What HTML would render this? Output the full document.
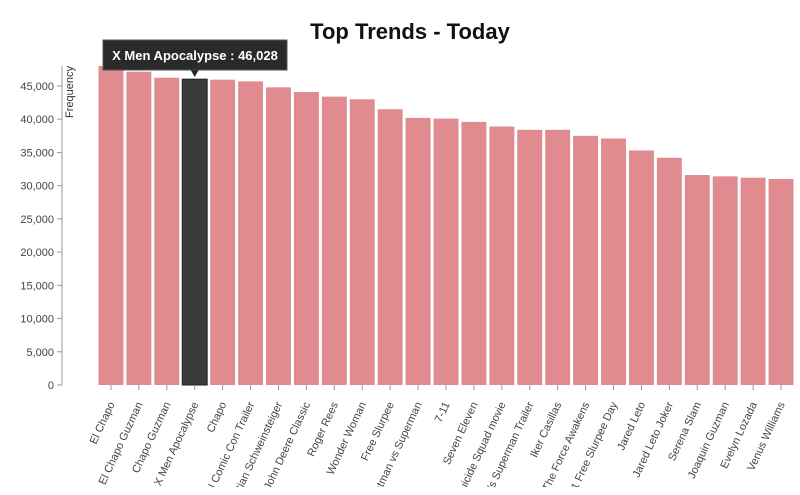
<!DOCTYPE html>
<html><head><meta charset="utf-8"><style>
html,body{margin:0;padding:0;background:#fff;width:800px;height:495px;overflow:hidden}
svg{display:block;font-family:"Liberation Sans",sans-serif;overflow:hidden}
</style></head><body>
<svg id="chart" width="800" height="495">
<defs><clipPath id="clip"><rect x="0" y="0" width="800" height="487"/></clipPath></defs>
<text x="410" y="39" text-anchor="middle" font-size="22" font-weight="bold" fill="#111">Top Trends - Today</text>
<g id="yaxis"></g>
<text transform="translate(73,66) rotate(-90)" text-anchor="end" font-size="11" fill="#333">Frequency</text>
<g id="bars"></g>
<g id="xaxis" clip-path="url(#clip)"></g>
<g id="tooltip"></g>
</svg>
<script>
const categories=["El Chapo","El Chapo Guzman","Chapo Guzman","X Men Apocalypse","Chapo","Deadpool Comic Con Trailer","Bastian Schweinsteiger","John Deere Classic","Roger Rees","Wonder Woman","Free Slurpee","Batman vs Superman","7-11","Seven Eleven","Suicide Squad movie","Batman Vs Superman Trailer","Iker Casillas","Star Wars The Force Awakens","7/11 Free Slurpee Day","Jared Leto","Jared Leto Joker","Serena Slam","Joaquin Guzman","Evelyn Lozada","Venus Williams"];
const values=[48000,47150,46250,46028,45950,45700,44800,44100,43400,43000,41500,40200,40100,39600,38900,38400,38400,37500,37100,35300,34200,31600,31400,31200,31000];
const yTicks=[0,5000,10000,15000,20000,25000,30000,35000,40000,45000];
const highlighted=3;
const NS="http://www.w3.org/2000/svg";
const x0=97,x1=795,yBase=385,pxPer=299/45000;
const step=(x1-x0)/categories.length;
const xs=i=>x0+i*step;
const ys=v=>yBase-v*pxPer;
function mk(tag,attrs,parent){const e=document.createElementNS(NS,tag);for(const k in attrs)e.setAttribute(k,attrs[k]);parent.appendChild(e);return e;}
const ya=document.getElementById('yaxis');
const yMax=Math.max(...values);
let l=mk('line',{x1:62,x2:62,y1:ys(yMax),y2:yBase,stroke:'#999'},ya);


yTicks.forEach(t=>{
 const y=ys(t);
 let tk=mk('line',{x1:57,x2:62,y1:y,y2:y,stroke:'#999'},ya);
 
 
 let tx=mk('text',{x:54,y:y+4,'text-anchor':'end','font-size':11,fill:'#444'},ya);
 tx.textContent=t.toLocaleString('en-US');
 
 
});
const bars=document.getElementById('bars'),xa=document.getElementById('xaxis');
categories.forEach((c,i)=>{
 const bx=xs(i)+1.5,bw=step-3,v=values[i];
 const hi=i===highlighted;
 let r=mk('rect',{x:bx,y:ys(v),width:bw,height:yBase-ys(v),fill:hi?'#3b3b3b':'#e08b8f',stroke:hi?'#222':'none','stroke-width':1},bars);
 
 
 const cx=xs(i)+step/2;
 let tk=mk('line',{x1:cx,x2:cx,y1:yBase,y2:yBase+5,stroke:'#999'},xa);
 
 
 let tx=mk('text',{transform:`translate(${cx+4},${yBase+19}) rotate(-65)`,'text-anchor':'end','font-size':11,fill:'#444'},xa);
 tx.textContent=c;
 
 
});
const tt=document.getElementById('tooltip');
const tcx=xs(highlighted)+step/2;
let box=mk('rect',{x:103,y:40,width:184,height:30,fill:'#2a2a2a',stroke:'#555'},tt);


let ar=mk('path',{d:`M${tcx-4},70 L${tcx+4},70 L${tcx},77 Z`,fill:'#2a2a2a'},tt);


let tl=mk('text',{x:195,y:60,'text-anchor':'middle','font-size':13,'font-weight':'bold',fill:'#fff'},tt);
tl.textContent=categories[highlighted]+' : '+values[highlighted].toLocaleString('en-US');


</script>
</body></html>
